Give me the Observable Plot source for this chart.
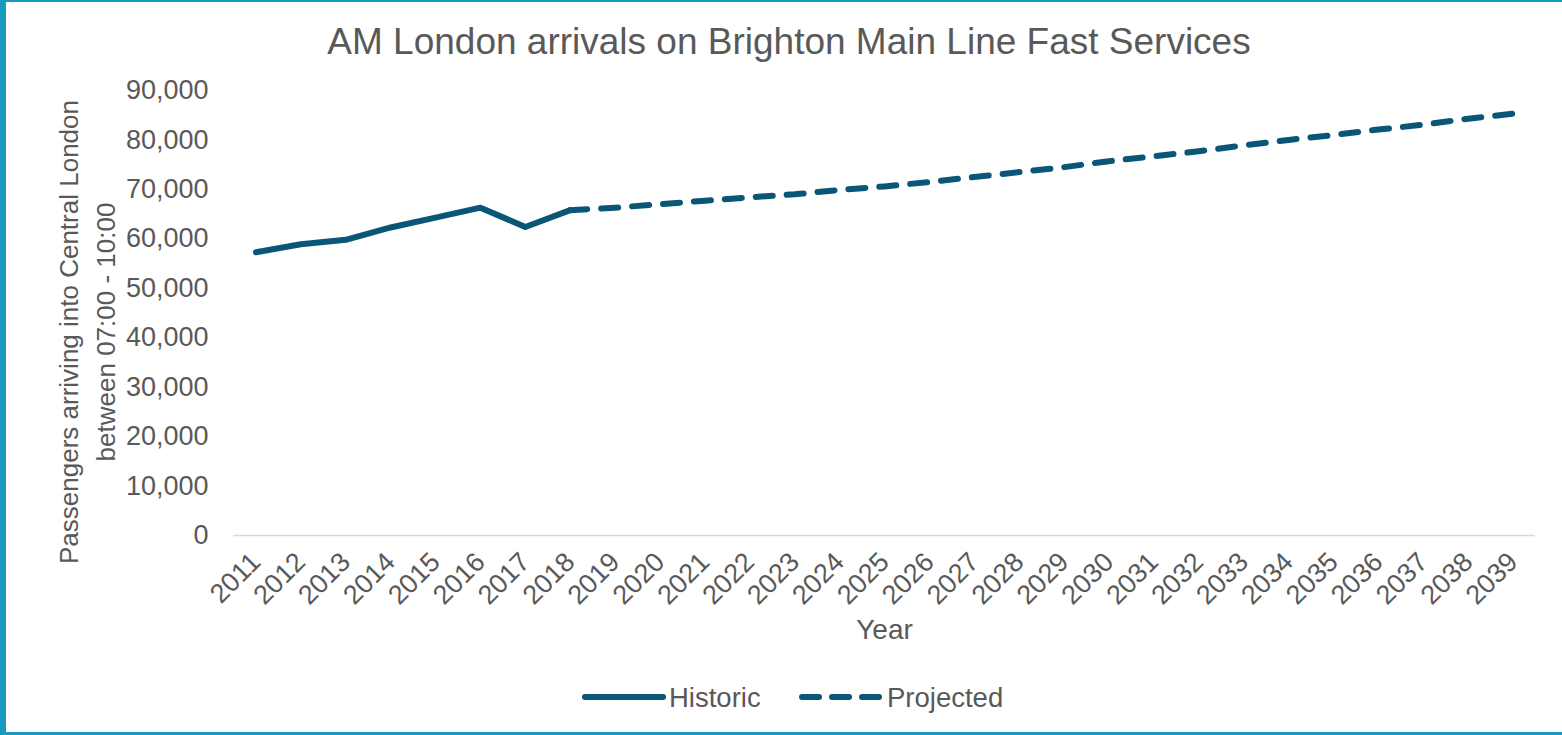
<!DOCTYPE html>
<html>
<head>
<meta charset="utf-8">
<script src="https://cdn.jsdelivr.net/npm/d3@7"></script>
<script src="https://cdn.jsdelivr.net/npm/@observablehq/plot@0.6"></script>
<style>
  html, body { margin: 0; padding: 0; background: #fff; }
  #chart { position: relative; width: 1562px; height: 735px; overflow: hidden; background: #fff;
           font-family: "Liberation Sans", Arial, sans-serif; color: #595959; }
  #title { position: absolute; top: 23px; left: 16px; width: 1546px; text-align: center;
           font-size: 37px; line-height: 37px; color: #595959; white-space: nowrap; }
  #plot { position: absolute; top: 60px; left: 0; }
  #legend { position: absolute; top: 680px; left: 0; }
  .b { position: absolute; background: #1899bf; }
</style>
</head>
<body>
<div id="chart">
  <div id="title">AM London arrivals on Brighton Main Line Fast Services</div>
  <div id="plot"></div>
  <div id="legend"></div>
  <div class="b" style="left:0;top:0;width:6px;height:735px"></div>
  <div class="b" style="left:0;top:0;width:1562px;height:2px"></div>
  <div class="b" style="left:0;top:732px;width:1562px;height:3px"></div>
</div>
<script>
const title = "AM London arrivals on Brighton Main Line Fast Services";
const years = d3.range(2011, 2040);
const historicYears = [2011, 2012, 2013, 2014, 2015, 2016, 2017, 2018];
const historicValues = [57300, 58900, 59800, 62300, 64300, 66300, 62400, 65800];
const projectedYears = [2018, 2019, 2020, 2021, 2022, 2023, 2024, 2025, 2026, 2027, 2028,
  2029, 2030, 2031, 2032, 2033, 2034, 2035, 2036, 2037, 2038, 2039];
const projectedValues = [65800, 66300, 67000, 67700, 68400, 69000, 69900, 70600, 71500, 72500, 73500,
  74500, 75700, 76700, 77700, 78900, 80000, 81000, 82100, 83100, 84300, 85300];
const yTicks = [0, 10000, 20000, 30000, 40000, 50000, 60000, 70000, 80000, 90000];
const yLabel = "Passengers arriving into Central London\nbetween 07:00 - 10:00";
const xLabel = "Year";
const seriesNames = ["Historic", "Projected"];

const color = "#0a5676";
const historic = historicYears.map((y, i) => ({year: y, value: historicValues[i]}));
const projected = projectedYears.map((y, i) => ({year: y, value: projectedValues[i]}));

const chart = Plot.plot({
  width: 1562,
  height: 600,
  marginTop: 30,
  marginBottom: 125,
  marginLeft: 233,
  marginRight: 27,
  style: {fontFamily: '"Liberation Sans", Arial, sans-serif', color: "#595959", background: "transparent"},
  x: {type: "point", domain: years, padding: 0.5, round: false},
  y: {domain: [0, 90000]},
  marks: [
    Plot.ruleY([0], {stroke: "#d9d9d9", strokeWidth: 1.5}),
    Plot.axisY({ticks: yTicks, tickFormat: d3.format(","), tickSize: 0, tickPadding: 25,
      fontSize: 27, fill: "#595959", label: null}),
    Plot.axisX({tickFormat: d => `${d}`, tickSize: 0, tickPadding: 22, tickRotate: -45,
      fontSize: 27, fill: "#595959", label: null}),
    Plot.text([yLabel], {frameAnchor: "left", text: d => d, rotate: -90, dx: -149, dy: 19,
      fontSize: 26, fill: "#595959", lineHeight: 1.45, textAnchor: "middle", lineAnchor: "middle"}),
    Plot.text([xLabel], {frameAnchor: "bottom", text: d => d, dy: 95, fontSize: 28,
      fill: "#595959", textAnchor: "middle", lineAnchor: "middle"}),
    Plot.line(historic, {x: "year", y: "value", stroke: color, strokeWidth: 6,
      strokeLinecap: "round", strokeLinejoin: "round"}),
    Plot.line(projected, {x: "year", y: "value", stroke: color, strokeWidth: 6,
      strokeLinecap: "round", strokeLinejoin: "round", strokeDasharray: "17,14"})
  ]
});
document.getElementById("plot").appendChild(chart);

// Legend
const lg = d3.select("#legend").append("svg").attr("width", 1562).attr("height", 40)
  .style("font-family", '"Liberation Sans", Arial, sans-serif');
const ly = 17;
lg.append("line").attr("x1", 585).attr("x2", 663).attr("y1", ly).attr("y2", ly)
  .attr("stroke", color).attr("stroke-width", 6).attr("stroke-linecap", "round");
lg.append("text").attr("x", 669).attr("y", ly).attr("dy", "0.35em").attr("font-size", 27.5)
  .attr("fill", "#595959").text(seriesNames[0]);
lg.append("line").attr("x1", 802).attr("x2", 880).attr("y1", ly).attr("y2", ly)
  .attr("stroke", color).attr("stroke-width", 6).attr("stroke-linecap", "round")
  .attr("stroke-dasharray", "17,13");
lg.append("text").attr("x", 887).attr("y", ly).attr("dy", "0.35em").attr("font-size", 27.5)
  .attr("fill", "#595959").text(seriesNames[1]);
</script>
</body>
</html>
